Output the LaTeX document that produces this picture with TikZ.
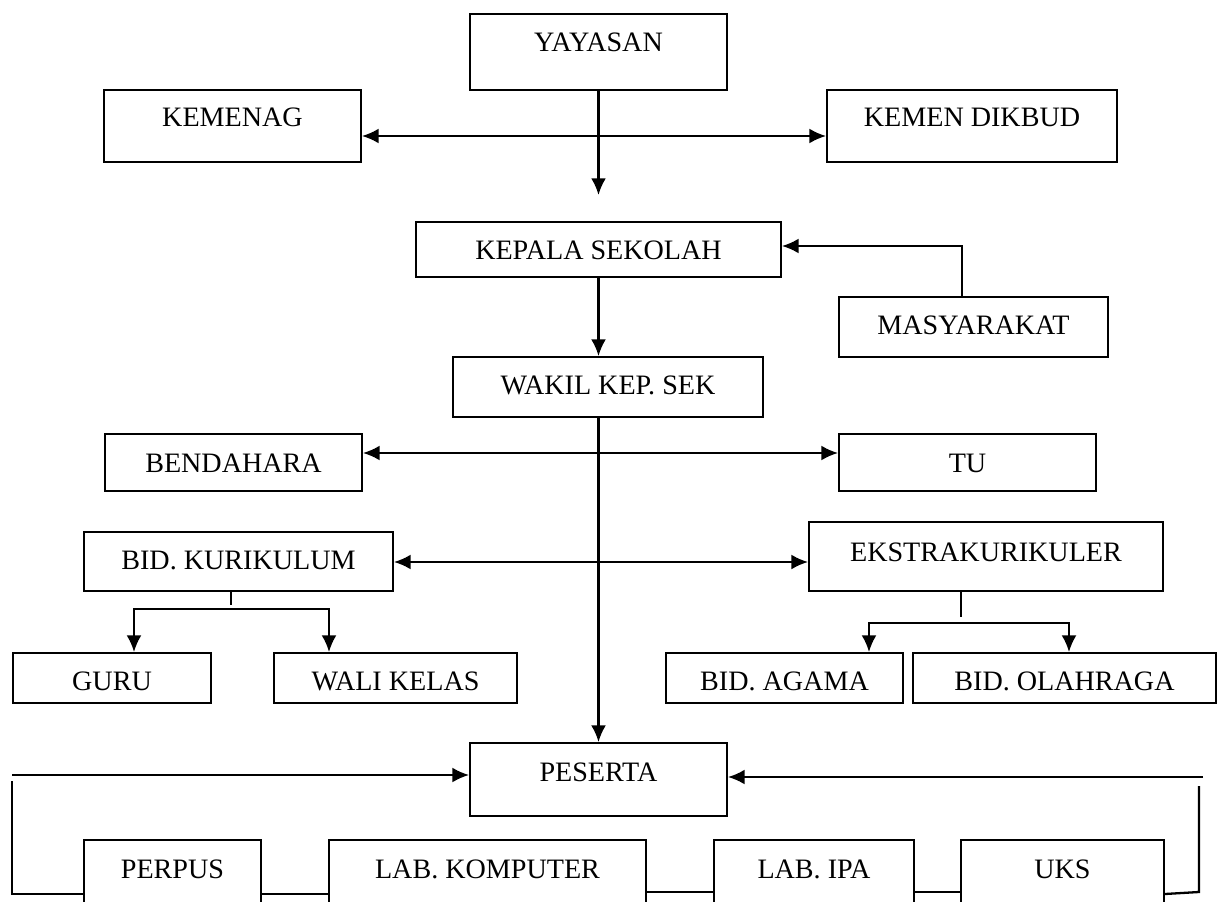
\documentclass[tikz,border=0pt]{standalone}
\usepackage{fontspec}
\setmainfont{Liberation Serif}
\usetikzlibrary{arrows.meta}

\begin{document}
\begin{tikzpicture}[x=0.02cm, y=-0.02cm,
		box/.style={draw=black, line width=1.1pt, inner sep=0pt, anchor=base, font=\fontsize{16}{19}\selectfont},
		link/.style={line width=1.3pt},
		arr/.style={link, -{Latex[length=9.5pt, width=8.5pt]}},
		arrs/.style={link, {Latex[length=9.5pt, width=8.5pt]}-{Latex[length=9.5pt, width=8.5pt]}}]
		\path[use as bounding box, clip] (0,0) rectangle (1217,902);
		
		\node[box, minimum width=5.14cm, text height=0.76cm, text depth=0.76cm] (yayasan) at (598.5,52) {YAYASAN};
		\node[box, minimum width=5.14cm, text height=0.74cm, text depth=0.70cm] (kemenag) at (232.5,127) {KEMENAG};
		\node[box, minimum width=5.8cm, text height=0.74cm, text depth=0.70cm] (dikbud) at (972,127) {KEMEN DIKBUD};
		\node[box, minimum width=7.3cm, text height=0.74cm, text depth=0.36cm] (kepsek) at (598.5,259) {KEPALA SEKOLAH};
		\node[box, minimum width=5.38cm, text height=0.76cm, text depth=0.44cm] (masyarakat) at (973.5,335) {MASYARAKAT};
		\node[box, minimum width=6.2cm, text height=0.74cm, text depth=0.46cm] (wakil) at (608,394) {WAKIL KEP. SEK};
		\node[box, minimum width=5.14cm, text height=0.76cm, text depth=0.38cm] (bendahara) at (233.5,472) {BENDAHARA};
		\node[box, minimum width=5.14cm, text height=0.76cm, text depth=0.38cm] (tu) at (967.5,472) {TU};
		\node[box, minimum width=6.18cm, text height=0.74cm, text depth=0.44cm] (kurikulum) at (238.5,569) {BID. KURIKULUM};
		\node[box, minimum width=7.08cm, text height=0.78cm, text depth=0.60cm] (ekstra) at (986,561) {EKSTRAKURIKULER};
		\node[box, minimum width=3.96cm, text height=0.74cm, text depth=0.26cm] (guru) at (112,690) {GURU};
		\node[box, minimum width=4.86cm, text height=0.74cm, text depth=0.26cm] (walikelas) at (395.5,690) {WALI KELAS};
		\node[box, minimum width=4.74cm, text height=0.74cm, text depth=0.26cm] (agama) at (784.5,690) {BID. AGAMA};
		\node[box, minimum width=6.06cm, text height=0.74cm, text depth=0.26cm] (olahraga) at (1064.5,690) {BID. OLAHRAGA};
		\node[box, minimum width=5.14cm, text height=0.76cm, text depth=0.70cm] (peserta) at (598.5,781) {PESERTA};
		\node[box, minimum width=3.54cm, text height=0.76cm, text depth=0.8cm] (perpus) at (172.5,878) {PERPUS};
		\node[box, minimum width=6.34cm, text height=0.76cm, text depth=0.8cm] (komputer) at (487.5,878) {LAB. KOMPUTER};
		\node[box, minimum width=4.0cm, text height=0.76cm, text depth=0.8cm] (ipa) at (814,878) {LAB. IPA};
		\node[box, minimum width=4.06cm, text height=0.76cm, text depth=0.8cm] (uks) at (1062.5,878) {UKS};
		
		\coordinate (ytop) at (598,136);
		\coordinate (ydown) at (598,195);
		\coordinate (mas) at (962,246);
		\coordinate (ymid) at (598,453);
		\coordinate (ylow) at (598,562);
		\coordinate (kstub) at (231,605);
		\coordinate (kl) at (134,609);
		\coordinate (kr) at (329,609);
		\coordinate (estub) at (961,617);
		\coordinate (el) at (869,623);
		\coordinate (er) at (1069,623);
		\coordinate (lt) at (12,775);
		\coordinate (lv) at (12,781);
		\coordinate (lb) at (12,894);
		\coordinate (rt) at (1203,777);
		\coordinate (rv) at (1199,786);
		\coordinate (rb) at (1199,892);
		
		\draw[arr] (yayasan.south) -- (yayasan.south |- ydown);
		\draw[arrs] (kemenag.east |- ytop) -- (dikbud.west |- ytop);
		\draw[arr] (mas |- masyarakat.north) -- (mas) -- (mas -| kepsek.east);
		\draw[arr] (kepsek.south) -- (kepsek.south |- wakil.north);
		\draw[arr] (peserta.north |- wakil.south) -- (peserta.north);
		\draw[arrs] (bendahara.east |- ymid) -- (tu.west |- ymid);
		\draw[arrs] (kurikulum.east |- ylow) -- (ekstra.west |- ylow);
		
		\draw[link] (kstub |- kurikulum.south) -- (kstub);
		\draw[arrs] (kl |- guru.north) -- (kl) -- (kr) -- (kr |- walikelas.north);
		\draw[link] (estub |- ekstra.south) -- (estub);
		\draw[arrs] (el |- agama.north) -- (el) -- (er) -- (er |- olahraga.north);
		
		\draw[arr] (lt) -- (lt -| peserta.west);
		\draw[link] (lv) -- (lb) -- (lb -| perpus.west);
		\draw[link] (perpus.east |- lb) -- (komputer.west |- lb);
		\draw[link] (komputer.east |- rb) -- (ipa.west |- rb);
		\draw[link] (ipa.east |- rb) -- (uks.west |- rb);
		\draw[link] (uks.east |- lb) -- (rb) -- (rv);
		\draw[arr] (rt) -- (rt -| peserta.east);
	\end{tikzpicture}
\end{document}
